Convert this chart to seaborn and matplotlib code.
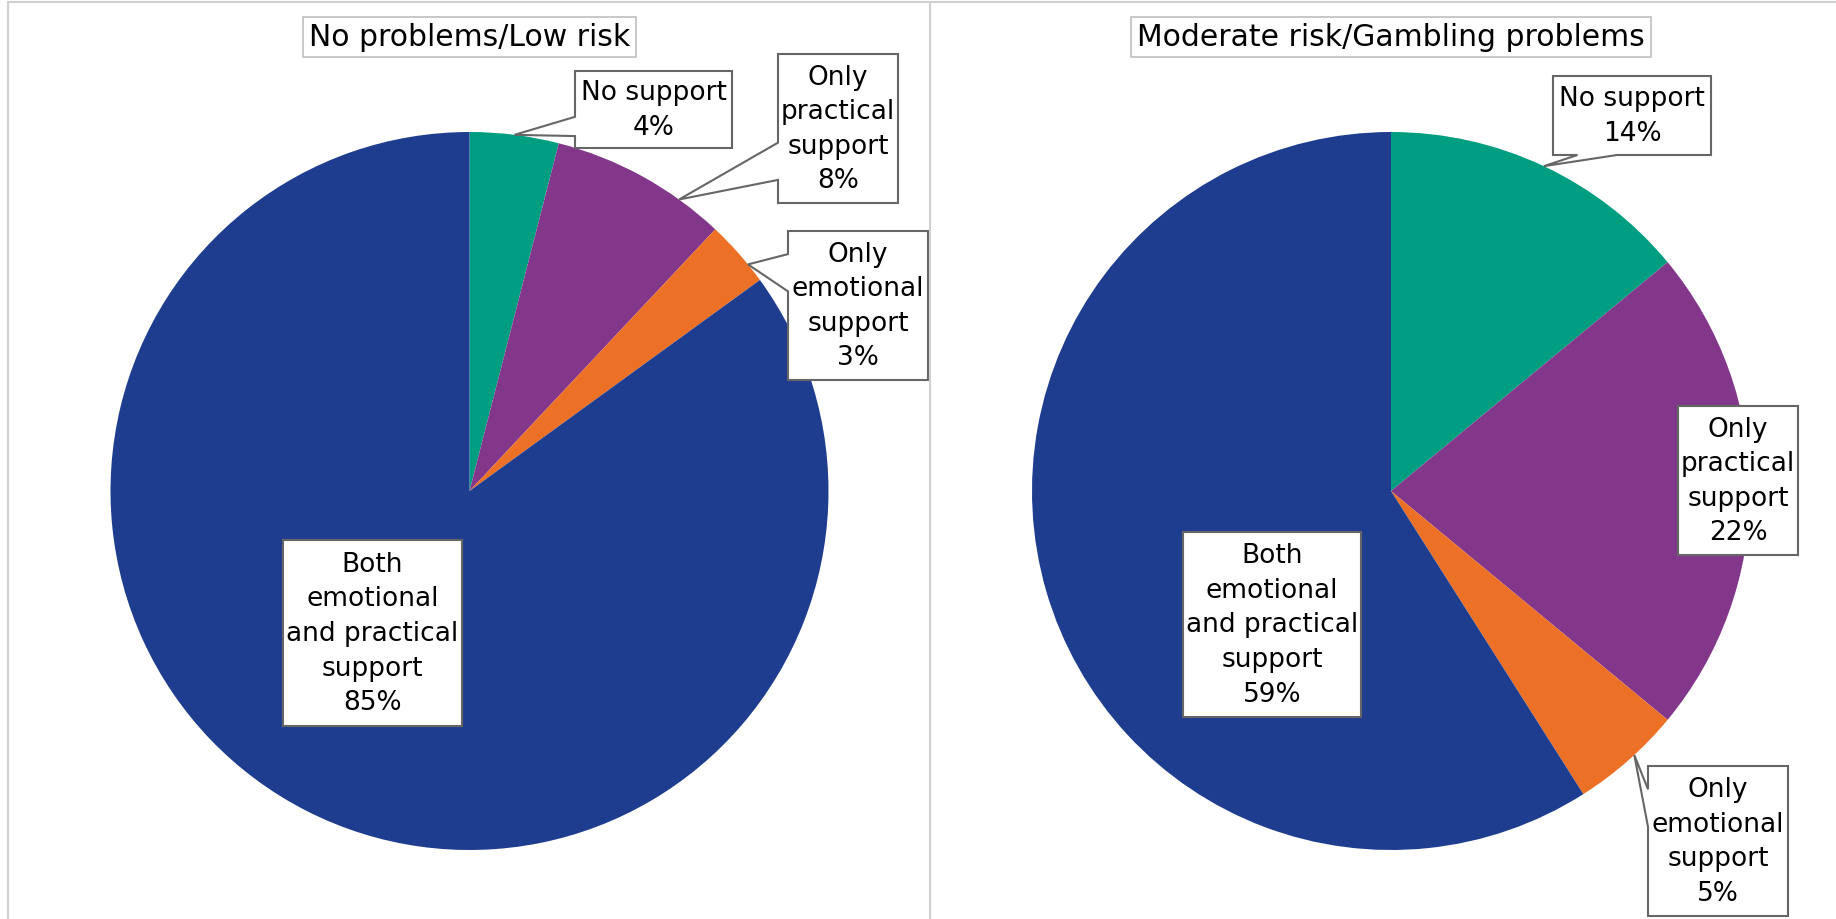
import math
import matplotlib
matplotlib.use("Agg")
import matplotlib.pyplot as plt
from matplotlib.patches import Polygon
from matplotlib.lines import Line2D
import seaborn as sns

# data
categories = ["No support", "Only practical support", "Only emotional support",
              "Both emotional and practical support"]
label_lines = ["No support", "Only\npractical\nsupport", "Only\nemotional\nsupport",
               "Both\nemotional\nand practical\nsupport"]
low_risk = [4, 8, 3, 85]
gambling = [14, 22, 5, 59]
titles = ["No problems/Low risk", "Moderate risk/Gambling problems"]
colors = sns.color_palette(["#009E80", "#83378B", "#ED7027", "#1F3D8F"])

W, H, R = 1836, 920, 359

sns.set_style("white")
plt.rcParams["font.family"] = ["DejaVu Sans"]

# layout in figure pixels (top-left origin): panel x-range, pie centre
panels = [
    dict(x0=0, x1=930, cx=469.5, cy=492),
    dict(x0=930, x1=1836, cx=1391, cy=492),
]
# label boxes (x0, y0, x1, y1), pointer side, where on the wedge the pointer lands
boxes = [
    [((575, 72, 732, 149), "left", 0.5),
     ((778, 55, 898, 204), "left", 0.74),
     ((788, 232, 928, 381), "left", 0.71),
     ((283, 541, 462, 727), None, None)],
    [((1553, 77, 1711, 156), "bottom", 0.5),
     ((1678, 407, 1798, 556), None, None),
     ((1648, 767, 1788, 917), "left", 0.43),
     ((1183, 533, 1361, 718), None, None)],
]


def callout_outline(box, side, tip):
    x0, y0, x1, y1 = box
    if side == "left":
        L = y1 - y0
        w = 0.25 * L
        c = min(max(tip[1], y0 + 0.28 * L), y0 + 0.72 * L)
        return [(x0, y0), (x1, y0), (x1, y1), (x0, y1),
                (x0, c + w / 2), tip, (x0, c - w / 2)]
    if side == "bottom":
        L = x1 - x0
        w = 0.25 * L
        c = min(max(tip[0], x0 + 0.28 * L), x0 + 0.72 * L)
        return [(x0, y0), (x1, y0), (x1, y1), (c + w / 2, y1), tip,
                (c - w / 2, y1), (x0, y1)]
    return [(x0, y0), (x1, y0), (x1, y1), (x0, y1)]


fig = plt.figure(figsize=(W / 100, H / 100), dpi=100)

for panel, values, title, layout in zip(panels, [low_risk, gambling], titles, boxes):
    cx, cy = panel["cx"], panel["cy"]
    ax = fig.add_axes([panel["x0"] / W, 0, (panel["x1"] - panel["x0"]) / W, 1])
    wedges, _ = ax.pie(values, colors=colors, startangle=90, counterclock=False,
                       radius=1, center=(0, 0), wedgeprops=dict(linewidth=0))
    ax.set_aspect("auto")
    ax.set_xlim((panel["x0"] - cx) / R, (panel["x1"] - cx) / R)
    ax.set_ylim((cy - H) / R, cy / R)
    ax.axis("off")

    def to_data(p):
        return ((p[0] - cx) / R, (cy - p[1]) / R)

    for wedge, val, lab, (box, side, frac) in zip(wedges, values, label_lines, layout):
        tip = None
        if side is not None:
            ang = math.radians(wedge.theta2 - frac * (wedge.theta2 - wedge.theta1))
            tip = (cx + math.cos(ang) * R, cy - math.sin(ang) * R)
        pts = callout_outline(box, side, tip)
        ax.add_patch(Polygon([to_data(p) for p in pts], closed=True, facecolor="white",
                             edgecolor="#666666", linewidth=1.5, zorder=3, clip_on=False))
        bx, by = to_data(((box[0] + box[2]) / 2, (box[1] + box[3]) / 2))
        ax.text(bx, by, f"{lab}\n{val}%", ha="center", va="center", fontsize=19,
                linespacing=1.43, color="black", zorder=4)

    tx, ty = to_data((cx, 38))
    ax.text(tx, ty, title, ha="center", va="center", fontsize=21.5, color="black",
            bbox=dict(boxstyle="square,pad=0.2", facecolor="white",
                      edgecolor="#BFBFBF", linewidth=1.2))

# panel frames
frame = dict(transform=fig.transFigure, color="#D0D0D0", linewidth=1.5)
fig.add_artist(Line2D([8 / W, 1], [1 - 3 / H, 1 - 3 / H], **frame))
fig.add_artist(Line2D([8 / W, 8 / W], [0, 1 - 3 / H], **frame))
fig.add_artist(Line2D([930 / W, 930 / W], [0, 1 - 3 / H], **frame))

fig.savefig("out.png", dpi=100, facecolor="white")
